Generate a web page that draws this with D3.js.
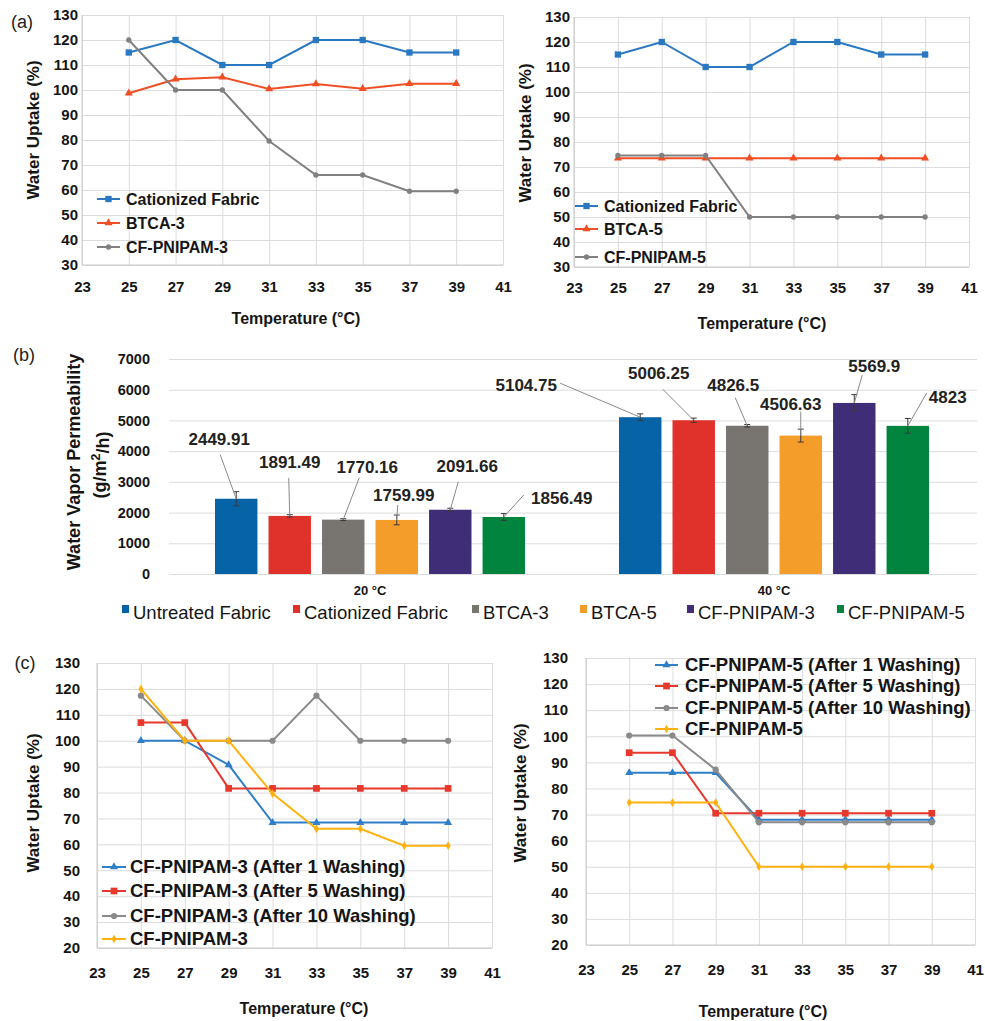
<!DOCTYPE html>
<html>
<head>
<meta charset="utf-8">
<script src="https://cdn.jsdelivr.net/npm/d3@7"></script>
<style>
  body { margin: 0; background: #fff; }
  svg { font-family: "Liberation Sans", Arial, sans-serif; }
</style>
</head>
<body>
<svg id="fig" width="985" height="1021"></svg>
<script>
// ---- data ----
const temps = [25, 27, 29, 31, 33, 35, 37, 39];

// (a) water uptake
const cationized = [115, 120, 110, 110, 120, 120, 115, 115];
const btca3 = [98.7, 104.3, 105.1, 100.4, 102.4, 100.5, 102.5, 102.5];
const cfPnipam3 = [120, 100, 100, 79.6, 66, 66, 59.5, 59.5];
const btca5 = [73.5, 73.5, 73.5, 73.5, 73.5, 73.5, 73.5, 73.5];
const cfPnipam5 = [74.6, 74.6, 74.6, 50, 50, 50, 50, 50];

// (c) after washing
const cf3Wash1 = [100, 100, 90.7, 68.4, 68.4, 68.4, 68.4, 68.4];
const cf3Wash5 = [107, 107, 81.6, 81.6, 81.6, 81.6, 81.6, 81.6];
const cf3Wash10 = [117.4, 100, 100, 100, 117.4, 100, 100, 100];
const cf5Wash1 = [86, 86, 86, 68, 68, 68, 68, 68];
const cf5Wash5 = [93.7, 93.7, 70.5, 70.5, 70.5, 70.5, 70.5, 70.5];
const cf5Wash10 = [100.3, 100.3, 87.2, 67, 67, 67, 67, 67];

// (b) water vapor permeability
const groups = ['20 °C', '40 °C'];
const fabrics = ['Untreated Fabric', 'Cationized Fabric', 'BTCA-3', 'BTCA-5', 'CF-PNIPAM-3', 'CF-PNIPAM-5'];
const wvp20 = [2449.91, 1891.49, 1770.16, 1759.99, 2091.66, 1856.49];
const wvp40 = [5104.75, 5006.25, 4826.5, 4506.63, 5569.9, 4823];
const err20 = [230, 40, 30, 160, 50, 110];
const err40 = [110, 70, 40, 210, 270, 240];
const wvpLabels20 = ['2449.91', '1891.49', '1770.16', '1759.99', '2091.66', '1856.49'];
const wvpLabels40 = ['5104.75', '5006.25', '4826.5', '4506.63', '5569.9', '4823'];

// ---- styles / layout ----
const C = {
  blue: '#2a78c2', orange: '#f04e25', gray: '#808080',
  cBlue: '#2f7fc8', cRed: '#e8382c', cGray: '#8a8a8a', cYellow: '#ffb20f'
};
const barColors = ['#0563a6', '#e0322b', '#78746f', '#f59d2b', '#402d78', '#00843e'];

const svg = d3.select('#fig');
const txt = '#151515';

function lineChart(cfg) {
  const g = svg.append('g');
  const x = d3.scaleLinear().domain([23, 41]).range(cfg.xr);
  const y = d3.scaleLinear().domain(cfg.yd).range(cfg.yr);
  const w = cfg.xr[1] - cfg.xr[0];
  const h = cfg.yr[0] - cfg.yr[1];

  // grid + y ticks
  const ya = g.append('g')
    .attr('transform', `translate(${cfg.xr[0]},0)`)
    .call(d3.axisLeft(y).tickValues(d3.range(cfg.yd[0], cfg.yd[1] + 1, 10))
      .tickSize(-w).tickPadding(cfg.xr[0] - cfg.yTickX));
  ya.select('.domain').remove();
  ya.selectAll('line').attr('stroke', '#dcdcdc');
  ya.selectAll('text').attr('font-size', 15).attr('font-weight', 'bold').attr('fill', txt);

  const xa = g.append('g')
    .attr('transform', `translate(0,${cfg.yr[0]})`)
    .call(d3.axisBottom(x).tickValues(d3.range(23, 42, 2)).tickSize(-h));
  xa.select('.domain').remove();
  xa.selectAll('line').attr('stroke', '#dcdcdc');
  xa.selectAll('text').attr('y', cfg.xTickY - cfg.yr[0]).attr('dy', '0.35em')
    .attr('font-size', 15).attr('font-weight', 'bold').attr('fill', txt);

  // axis lines
  g.append('line').attr('x1', cfg.xr[0]).attr('x2', cfg.xr[0])
    .attr('y1', cfg.yr[1]).attr('y2', cfg.yr[0]).attr('stroke', '#c8c8c8');
  g.append('line').attr('x1', cfg.xr[0]).attr('x2', cfg.xr[1])
    .attr('y1', cfg.yr[0]).attr('y2', cfg.yr[0]).attr('stroke', '#c8c8c8');

  // titles
  g.append('text').attr('x', cfg.xTitle[0]).attr('y', cfg.xTitle[1]).attr('dy', '0.35em')
    .attr('text-anchor', 'middle').attr('font-size', 16).attr('font-weight', 'bold').attr('fill', txt)
    .text('Temperature (°C)');
  g.append('text').attr('transform', `translate(${cfg.yTitle[0]},${cfg.yTitle[1]}) rotate(-90)`)
    .attr('dy', '0.35em').attr('text-anchor', 'middle').attr('font-size', 17).attr('font-weight', 'bold')
    .attr('fill', txt).text('Water Uptake (%)');

  const line = d3.line().x((d, i) => x(temps[i])).y(d => y(d));

  cfg.series.forEach(s => {
    g.append('path').datum(s.values).attr('d', line)
      .attr('fill', 'none').attr('stroke', s.color).attr('stroke-width', 2);
    g.selectAll(null).data(s.values).enter().append('path')
      .attr('transform', (d, i) => `translate(${x(temps[i])},${y(d)})`)
      .attr('d', d3.symbol().type(s.symbol).size(s.size))
      .attr('fill', s.color);
  });

  // legend
  const lg = cfg.legend;
  cfg.series.forEach((s, i) => {
    const ly = lg.rows[i];
    g.append('line').attr('x1', lg.x0).attr('x2', lg.x1).attr('y1', ly).attr('y2', ly)
      .attr('stroke', s.color).attr('stroke-width', 2);
    g.append('path').attr('transform', `translate(${(lg.x0 + lg.x1) / 2},${ly})`)
      .attr('d', d3.symbol().type(s.symbol).size(s.size)).attr('fill', s.color);
    g.append('text').attr('x', lg.tx).attr('y', ly).attr('dy', '0.35em')
      .attr('font-size', lg.fs).attr('font-weight', 'bold').attr('fill', txt).text(s.name);
  });
}

const sq = d3.symbolSquare, tri = d3.symbolTriangle, cir = d3.symbolCircle, dia = d3.symbolDiamond;

// (a) left
lineChart({
  xr: [82, 503], yr: [265, 15], yd: [30, 130], yTickX: 78, xTickY: 287,
  xTitle: [296, 318], yTitle: [33, 130],
  legend: { x0: 97, x1: 120, tx: 126, rows: [199, 223, 247], fs: 16 },
  series: [
    { name: 'Cationized Fabric', values: cationized, color: C.blue, symbol: sq, size: 40 },
    { name: ' BTCA-3', values: btca3, color: C.orange, symbol: tri, size: 28 },
    { name: 'CF-PNIPAM-3', values: cfPnipam3, color: C.gray, symbol: cir, size: 22 }
  ]
});

// (a) right
lineChart({
  xr: [574, 969], yr: [267, 17], yd: [30, 130], yTickX: 570, xTickY: 288,
  xTitle: [762, 323], yTitle: [525, 133],
  legend: { x0: 575, x1: 598, tx: 604, rows: [206, 229, 257], fs: 16 },
  series: [
    { name: 'Cationized Fabric', values: cationized, color: C.blue, symbol: sq, size: 40 },
    { name: ' BTCA-5', values: btca5, color: C.orange, symbol: tri, size: 28 },
    { name: 'CF-PNIPAM-5', values: cfPnipam5, color: C.gray, symbol: cir, size: 22 }
  ]
});

// (c) left
lineChart({
  xr: [97, 492], yr: [948, 663], yd: [20, 130], yTickX: 80, xTickY: 973,
  xTitle: [304, 1008], yTitle: [33, 803],
  legend: { x0: 102, x1: 126, tx: 130, rows: [867, 891, 916, 939], fs: 18.5 },
  series: [
    { name: 'CF-PNIPAM-3 (After 1 Washing)', values: cf3Wash1, color: C.cBlue, symbol: tri, size: 28 },
    { name: 'CF-PNIPAM-3 (After 5 Washing)', values: cf3Wash5, color: C.cRed, symbol: sq, size: 45 },
    { name: 'CF-PNIPAM-3 (After 10 Washing)', values: cf3Wash10, color: C.cGray, symbol: cir, size: 30 },
    { name: 'CF-PNIPAM-3', values: cfPnipam3, color: C.cYellow, symbol: dia, size: 22 }
  ]
});

// (c) right
lineChart({
  xr: [586, 975], yr: [945, 658], yd: [20, 130], yTickX: 568, xTickY: 970,
  xTitle: [763, 1011], yTitle: [520, 793],
  legend: { x0: 655, x1: 678, tx: 685, rows: [665, 686, 708, 729], fs: 18.5 },
  series: [
    { name: 'CF-PNIPAM-5 (After 1 Washing)', values: cf5Wash1, color: C.cBlue, symbol: tri, size: 28 },
    { name: 'CF-PNIPAM-5 (After 5 Washing)', values: cf5Wash5, color: C.cRed, symbol: sq, size: 45 },
    { name: 'CF-PNIPAM-5 (After 10 Washing)', values: cf5Wash10, color: C.cGray, symbol: cir, size: 30 },
    { name: 'CF-PNIPAM-5', values: cfPnipam5, color: C.cYellow, symbol: dia, size: 22 }
  ]
});

// ---- (b) bar chart ----
(function () {
  const g = svg.append('g');
  const x0 = d3.scaleBand().domain(groups).range([168, 976]);
  const x1 = d3.scaleBand().domain(fabrics).range([0, 310]).paddingInner(0.207);
  const y = d3.scaleLinear().domain([0, 7000]).range([574, 359]);
  const off = (x0.bandwidth() - 310) / 2;

  const ya = g.append('g').attr('transform', 'translate(169,0)')
    .call(d3.axisLeft(y).tickValues(d3.range(0, 7001, 1000)).tickSize(-808).tickPadding(19).tickFormat(d3.format('d')));
  ya.select('.domain').remove();
  ya.selectAll('line').attr('stroke', '#dcdcdc');
  ya.selectAll('text').attr('font-size', 14.5).attr('font-weight', 'bold').attr('fill', txt);

  g.selectAll('.cat').data(groups).enter().append('text')
    .attr('x', d => x0(d) + x0.bandwidth() / 2).attr('y', 590).attr('dy', '0.35em')
    .attr('text-anchor', 'middle').attr('font-size', 13).attr('font-weight', 'bold').attr('fill', txt)
    .text(d => d);

  // y title
  const yt = g.append('text').attr('transform', 'translate(74,462) rotate(-90)')
    .attr('dy', '0.35em').attr('text-anchor', 'middle').attr('font-size', 18).attr('font-weight', 'bold').attr('fill', txt);
  yt.text('Water Vapor Permeability');
  const yt2 = g.append('text').attr('transform', 'translate(100,465) rotate(-90)')
    .attr('dy', '0.35em').attr('text-anchor', 'middle').attr('font-size', 18).attr('font-weight', 'bold').attr('fill', txt);
  yt2.append('tspan').text('(g/m');
  yt2.append('tspan').attr('dy', '-0.45em').attr('font-size', 13).text('2');
  yt2.append('tspan').attr('dy', '0.45em').text('/h)');

  // label layout: [text dx, text dy, leader start dx, leader start dy] relative to bar top centre
  const labelPos = {
    '20 °C': [[-17, -60, -16, -44], [0, -54, -1, -38], [24, -53, 16, -42], [7, -25, 1, -15], [17, -44, 8, -28], [58, -19, 20, -22]],
    '40 °C': [[-114, -32, -80, -34], [-35, -47, -31, -31], [-14, -41, -12, -28], [-10, -32, 0, -24], [20, -37, 8, -28], [40, -29, 19, -33]]
  };
  const vals = { '20 °C': wvp20, '40 °C': wvp40 };
  const errs = { '20 °C': err20, '40 °C': err40 };
  const labs = { '20 °C': wvpLabels20, '40 °C': wvpLabels40 };

  groups.forEach(gr => {
    const gg = g.append('g').attr('transform', `translate(${x0(gr) + off},0)`);
    gg.selectAll('rect').data(vals[gr]).enter().append('rect')
      .attr('x', (d, i) => x1(fabrics[i])).attr('width', x1.bandwidth())
      .attr('y', d => y(d)).attr('height', d => y(0) - y(d))
      .attr('fill', (d, i) => barColors[i]);

    vals[gr].forEach((v, i) => {
      const cx = x1(fabrics[i]) + x1.bandwidth() / 2;
      const e = errs[gr][i];
      gg.append('line').attr('x1', cx).attr('x2', cx).attr('y1', y(v - e)).attr('y2', y(v + e))
        .attr('stroke', '#3a3a3a').attr('stroke-width', 1);
      [v - e, v + e].forEach(t => gg.append('line').attr('x1', cx - 3).attr('x2', cx + 3)
        .attr('y1', y(t)).attr('y2', y(t)).attr('stroke', '#3a3a3a').attr('stroke-width', 1));

      const p = labelPos[gr][i];
      gg.append('line').attr('x1', cx + p[2]).attr('y1', y(v) + p[3]).attr('x2', cx).attr('y2', y(v))
        .attr('stroke', '#8a8a8a').attr('stroke-width', 1);
      gg.append('text').attr('x', cx + p[0]).attr('y', y(v) + p[1]).attr('dy', '0.35em')
        .attr('text-anchor', 'middle').attr('font-size', 17).attr('font-weight', 'bold').attr('fill', '#222')
        .text(labs[gr][i]);
    });
  });

  // legend
  const legX = [122, 293, 472, 580, 687, 837];
  fabrics.forEach((f, i) => {
    g.append('rect').attr('x', legX[i]).attr('y', 605).attr('width', 7).attr('height', 8).attr('fill', barColors[i]);
    g.append('text').attr('x', legX[i] + 11).attr('y', 613).attr('dy', '0.35em')
      .attr('font-size', 18.5).attr('fill', txt).text(f);
  });
})();

// panel letters
[['(a)', 22, 22], ['(b)', 24, 355], ['(c)', 25, 663]].forEach(p => {
  svg.append('text').attr('x', p[1]).attr('y', p[2]).attr('dy', '0.35em').attr('text-anchor', 'middle')
    .attr('font-size', 18).attr('fill', '#222').text(p[0]);
});
</script>
</body>
</html>
